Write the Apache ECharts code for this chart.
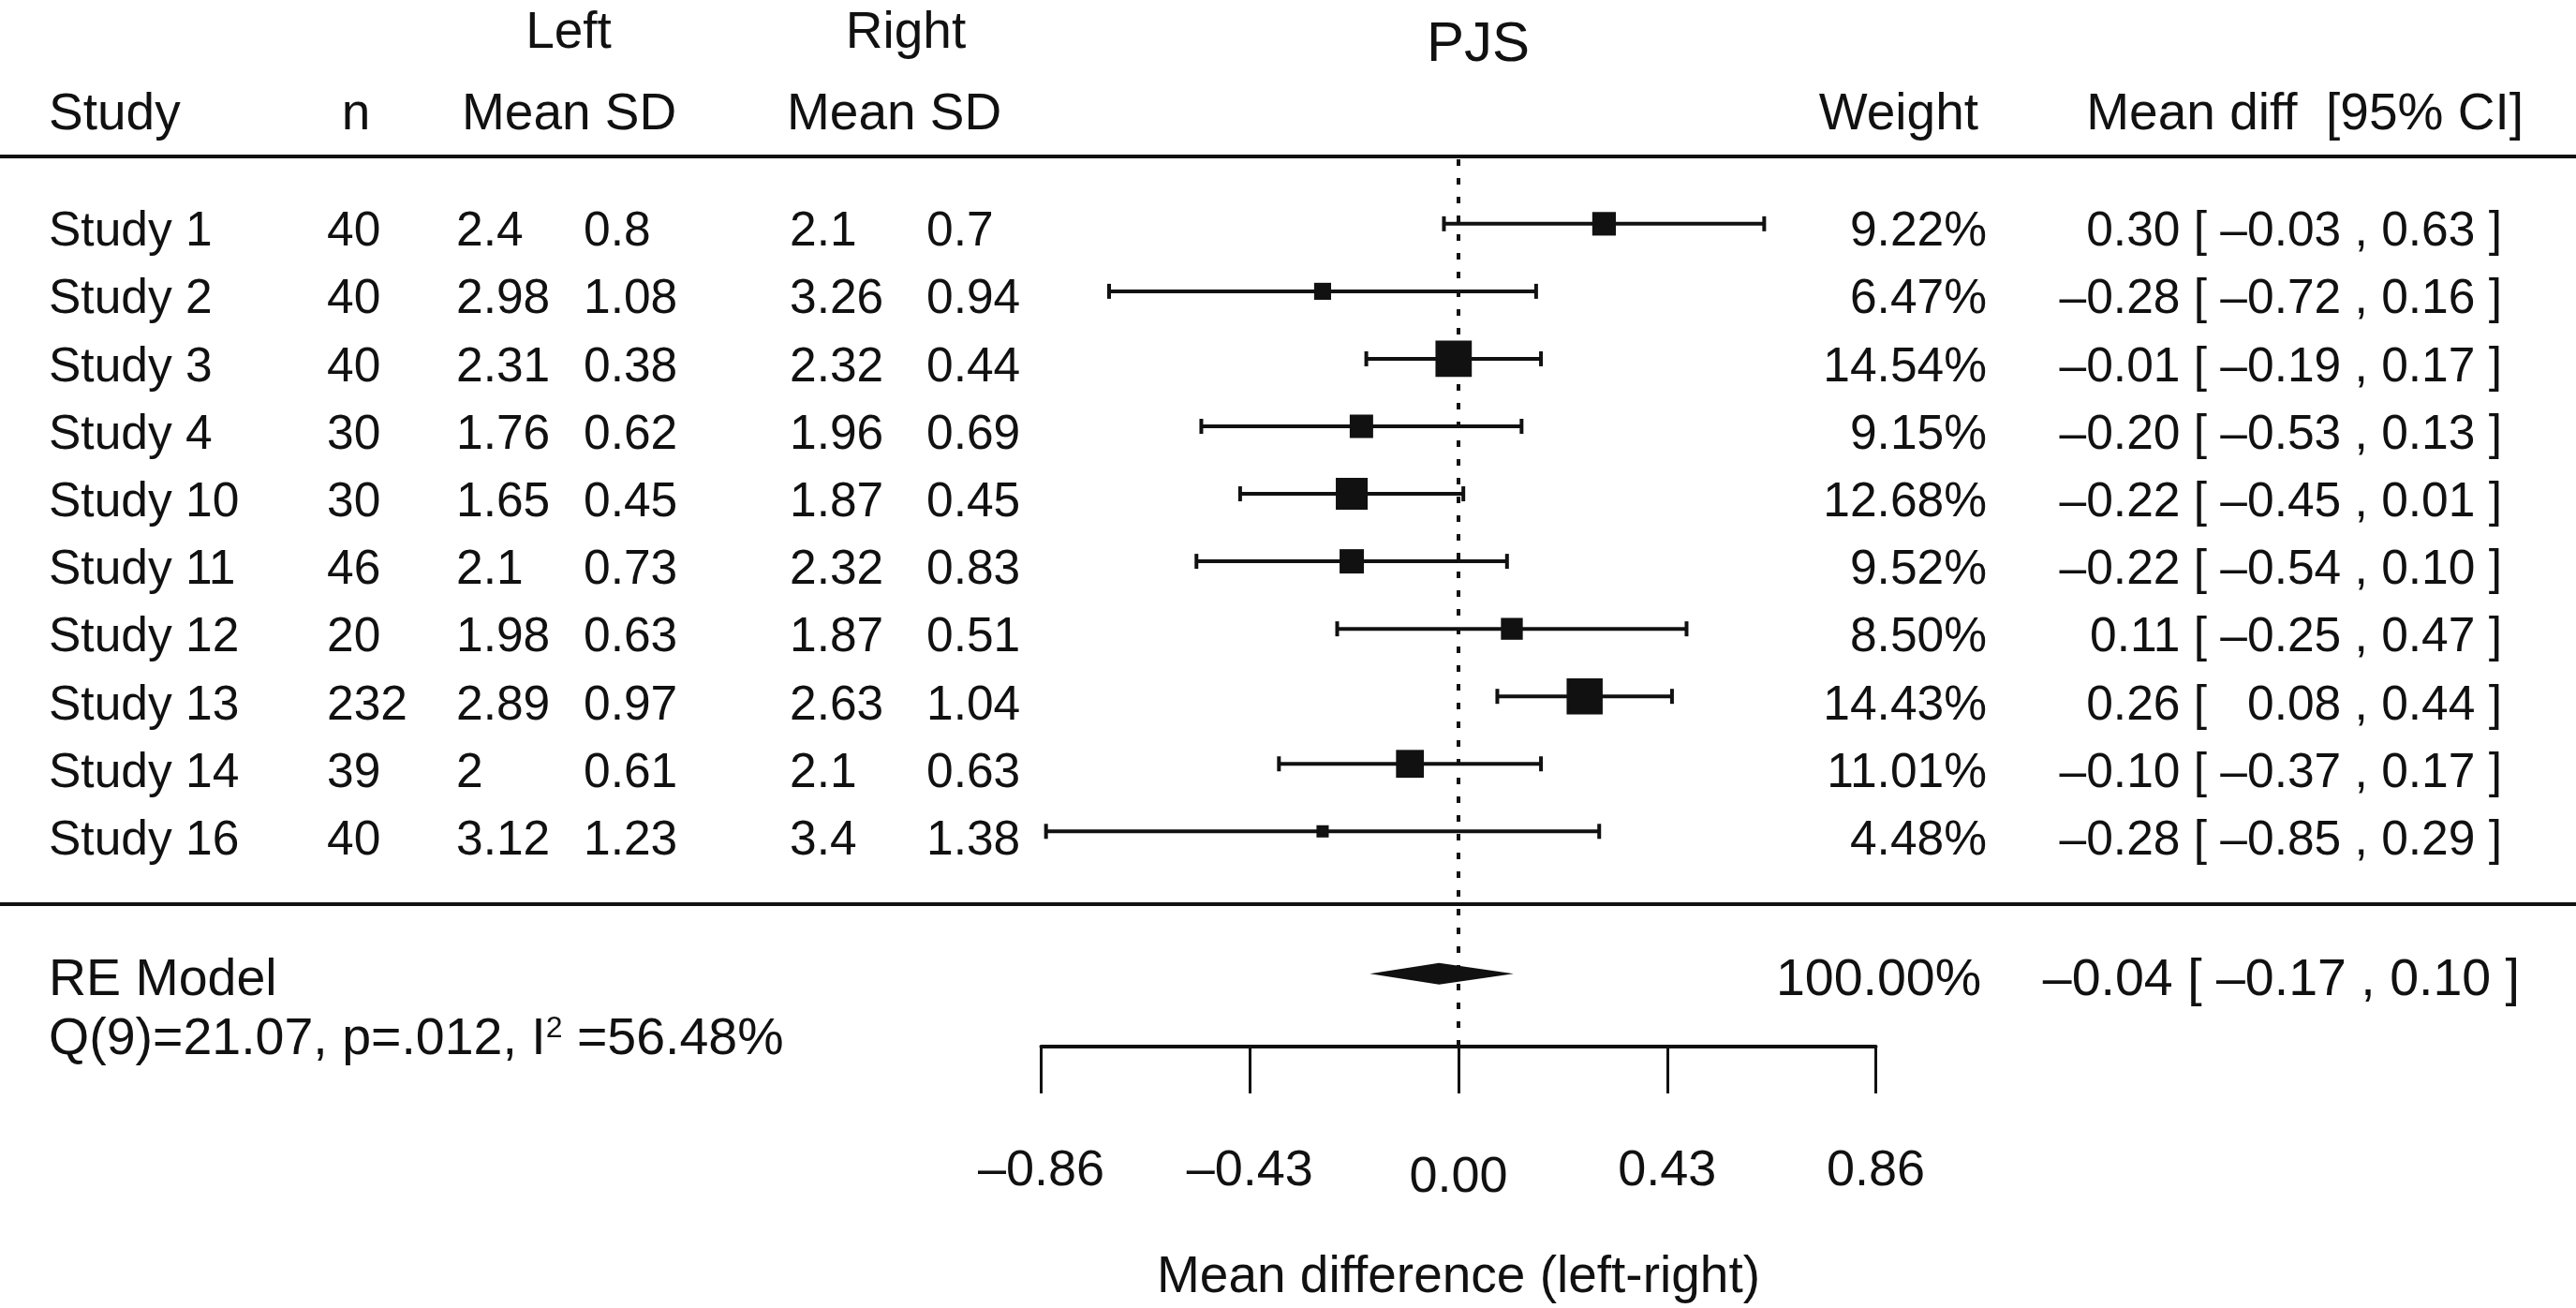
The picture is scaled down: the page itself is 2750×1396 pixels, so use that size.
<!DOCTYPE html>
<html>
<head>
<meta charset="utf-8">
<script src="https://cdn.jsdelivr.net/npm/echarts@6/dist/echarts.min.js"></script>
<style>html,body{margin:0;padding:0;background:#fff}#chart{width:2750px;height:1396px}</style>
</head>
<body>
<div id="chart"></div>
<script>
// ---------------- data ----------------
const studies   = ['Study 1','Study 2','Study 3','Study 4','Study 10','Study 11','Study 12','Study 13','Study 14','Study 16'];
const nVals     = ['40','40','40','30','30','46','20','232','39','40'];
const leftMean  = ['2.4','2.98','2.31','1.76','1.65','2.1','1.98','2.89','2','3.12'];
const leftSD    = ['0.8','1.08','0.38','0.62','0.45','0.73','0.63','0.97','0.61','1.23'];
const rightMean = ['2.1','3.26','2.32','1.96','1.87','2.32','1.87','2.63','2.1','3.4'];
const rightSD   = ['0.7','0.94','0.44','0.69','0.45','0.83','0.51','1.04','0.63','1.38'];
const weights   = [9.22, 6.47, 14.54, 9.15, 12.68, 9.52, 8.50, 14.43, 11.01, 4.48];
const estimates = [0.30, -0.28, -0.01, -0.20, -0.22, -0.22, 0.11, 0.26, -0.10, -0.28];
const ciLower   = [-0.03, -0.72, -0.19, -0.53, -0.45, -0.54, -0.25, 0.08, -0.37, -0.85];
const ciUpper   = [0.63, 0.16, 0.17, 0.13, 0.01, 0.10, 0.47, 0.44, 0.17, 0.29];
const summaryLabel = 'RE Model';
const summaryEst = -0.04, summaryLower = -0.17, summaryUpper = 0.10, summaryWeight = 100.00;
const heterogeneity = ['Q(9)=21.07, p=.012, I', '2', ' =56.48%'];
const xTicks = [-0.86, -0.43, 0.00, 0.43, 0.86];
const plotTitle = 'PJS';
const xAxisTitle = 'Mean difference (left-right)';
const groupHeaders = ['Left', 'Right'];
const colHeaders = ['Study', 'n', 'Mean SD', 'Mean SD', 'Weight', 'Mean diff  [95% CI]'];

// ---------------- layout ----------------
const FONT = '"Liberation Sans", Arial, Helvetica, sans-serif';
const INK = '#111111';
const W = 2750, H = 1396;
const ROW0 = 961, ROWPX = 72.2;                 // pixel of row 0, pixels per row
const rowOf = px => (ROW0 - px) / ROWPX;
const studyRow = i => studies.length - i;
const SUMMARY_ROW = rowOf(1041);
const Q_ROW = rowOf(1105);
const TXT_DY = 9;
const ROW_FS = 51.5, SUM_FS = 55.5, HEAD_FS = 55;
const COL = {study: 52, n: 349, lMean: 487, lSD: 623, rMean: 843, rSD: 989, weightR: 2121, ciR: 2671};
const PLOT_L = 1111.5, PLOT_R = 2002.5, PLOT_TOP = 167, AXIS_Y = 1119;

const fmt = v => (v < 0 ? '\u2013' : '') + Math.abs(v).toFixed(2);
const padLow = v => (v < 0 ? fmt(v) : '  ' + fmt(v));
const ciText = (e, l, u) => fmt(e) + ' [ ' + padLow(l) + ' , ' + fmt(u) + ' ]';

function txt(x, y, text, align, size, extra) {
  return {type: 'text', silent: true, style: Object.assign({
    x: x, y: y, text: text,
    align: align, textAlign: align, verticalAlign: 'middle', textVerticalAlign: 'middle',
    fontSize: size, fontFamily: FONT, fill: INK
  }, extra || {})};
}

const chart = echarts.init(document.getElementById('chart'), null, {renderer: 'canvas', width: W, height: H});

const option = {
  animation: false,
  backgroundColor: '#ffffff',
  textStyle: {fontFamily: FONT, color: INK},
  grid: [
    {left: 0, right: 0, top: 0, bottom: 0},
    {left: PLOT_L, right: W - PLOT_R, top: PLOT_TOP, bottom: H - AXIS_Y}
  ],
  xAxis: [
    {gridIndex: 0, type: 'value', min: 0, max: W, show: false},
    {gridIndex: 1, type: 'value', min: xTicks[0], max: xTicks[xTicks.length - 1],
     interval: xTicks[1] - xTicks[0],
     splitLine: {show: false},
     axisLine: {show: true, onZero: false, lineStyle: {color: INK, width: 4}},
     axisTick: {show: true, inside: false, length: 50, lineStyle: {color: INK, width: 3}},
     axisLabel: {
       margin: 106,
       formatter: v => Math.abs(v) < 1e-9 ? '{z|0.00}' : '{n|' + fmt(v) + '}',
       rich: {
         n: {fontSize: 54, fontFamily: FONT, color: INK},
         z: {fontSize: 54, fontFamily: FONT, color: INK, padding: [7, 0, 0, 0]}
       }
     },
     name: xAxisTitle, nameLocation: 'middle', nameGap: 219,
     nameTextStyle: {fontSize: 55, fontFamily: FONT, color: INK}
    }
  ],
  yAxis: [
    {gridIndex: 0, type: 'value', min: rowOf(H), max: rowOf(0), show: false},
    {gridIndex: 1, type: 'value', min: rowOf(AXIS_Y), max: rowOf(PLOT_TOP), show: false}
  ],
  graphic: [
    txt(607, 36, groupHeaders[0], 'center', HEAD_FS),
    txt(967, 36, groupHeaders[1], 'center', HEAD_FS),
    txt(1578, 48, plotTitle, 'center', 60),
    txt(52, 123, colHeaders[0], 'left', HEAD_FS),
    txt(380, 123, colHeaders[1], 'center', HEAD_FS),
    txt(493, 123, colHeaders[2], 'left', HEAD_FS),
    txt(840, 123, colHeaders[3], 'left', HEAD_FS),
    txt(2112, 123, colHeaders[4], 'right', HEAD_FS),
    txt(2694, 123, colHeaders[5], 'right', HEAD_FS)
  ],
  series: [
    // horizontal rules
    {
      type: 'custom', xAxisIndex: 0, yAxisIndex: 0, silent: true,
      data: [[0, rowOf(PLOT_TOP)], [0, rowOf(965)]],
      renderItem: (params, api) => {
        const y = api.coord([0, api.value(1)])[1];
        return {type: 'line', shape: {x1: api.coord([0, 0])[0], y1: y, x2: api.coord([W, 0])[0], y2: y},
                style: {stroke: INK, lineWidth: 4}};
      }
    },
    // study table text
    {
      type: 'custom', xAxisIndex: 0, yAxisIndex: 0, silent: true,
      data: studies.map((s, i) => [0, studyRow(i)]),
      renderItem: (params, api) => {
        const i = params.dataIndex;
        const y = api.coord([0, api.value(1)])[1] + TXT_DY;
        const X = v => api.coord([v, 0])[0];
        return {type: 'group', children: [
          txt(X(COL.study), y, studies[i], 'left', ROW_FS),
          txt(X(COL.n), y, nVals[i], 'left', ROW_FS),
          txt(X(COL.lMean), y, leftMean[i], 'left', ROW_FS),
          txt(X(COL.lSD), y, leftSD[i], 'left', ROW_FS),
          txt(X(COL.rMean), y, rightMean[i], 'left', ROW_FS),
          txt(X(COL.rSD), y, rightSD[i], 'left', ROW_FS),
          txt(X(COL.weightR), y, weights[i].toFixed(2) + '%', 'right', ROW_FS),
          txt(X(COL.ciR), y, ciText(estimates[i], ciLower[i], ciUpper[i]), 'right', ROW_FS)
        ]};
      }
    },
    // summary text
    {
      type: 'custom', xAxisIndex: 0, yAxisIndex: 0, silent: true,
      data: [[0, SUMMARY_ROW]],
      renderItem: (params, api) => {
        const y = api.coord([0, api.value(1)])[1] + 6;
        const yq = api.coord([0, Q_ROW])[1] + 5;
        const X = v => api.coord([v, 0])[0];
        return {type: 'group', children: [
          txt(X(COL.study), y, summaryLabel, 'left', SUM_FS),
          txt(X(2115), y, summaryWeight.toFixed(2) + '%', 'right', SUM_FS),
          txt(X(2690), y, ciText(summaryEst, summaryLower, summaryUpper), 'right', SUM_FS),
          txt(X(COL.study), yq, heterogeneity[0] + '{sup|' + heterogeneity[1] + '}' + heterogeneity[2], 'left', SUM_FS,
              {rich: {sup: {fontSize: 32, fontFamily: FONT, fill: INK, verticalAlign: 'top'}}})
        ]};
      }
    },
    // zero reference line
    {
      type: 'line', xAxisIndex: 1, yAxisIndex: 1, silent: true, symbol: 'none',
      data: [[0, rowOf(AXIS_Y)], [0, rowOf(PLOT_TOP)]],
      lineStyle: {color: INK, width: 4, type: [7, 13]}, z: 1
    },
    // study CIs and squares
    {
      type: 'custom', xAxisIndex: 1, yAxisIndex: 1, silent: true, z: 3,
      data: estimates.map((e, i) => [e, ciLower[i], ciUpper[i], weights[i], studyRow(i)]),
      encode: {x: [0, 1, 2], y: 4},
      renderItem: (params, api) => {
        const row = api.value(4);
        const pE = api.coord([api.value(0), row]);
        const pL = api.coord([api.value(1), row]);
        const pU = api.coord([api.value(2), row]);
        const side = 2.556 * api.value(3) + 1.6;
        const cap = 8;
        return {type: 'group', children: [
          {type: 'line', shape: {x1: pL[0], y1: pL[1], x2: pU[0], y2: pU[1]}, style: {stroke: INK, lineWidth: 4}},
          {type: 'line', shape: {x1: pL[0], y1: pL[1] - cap, x2: pL[0], y2: pL[1] + cap}, style: {stroke: INK, lineWidth: 4}},
          {type: 'line', shape: {x1: pU[0], y1: pU[1] - cap, x2: pU[0], y2: pU[1] + cap}, style: {stroke: INK, lineWidth: 4}},
          {type: 'rect', shape: {x: pE[0] - side / 2, y: pE[1] - side / 2, width: side, height: side}, style: {fill: INK}}
        ]};
      }
    },
    // summary diamond
    {
      type: 'custom', xAxisIndex: 1, yAxisIndex: 1, silent: true, z: 3,
      data: [[summaryEst, summaryLower, summaryUpper, SUMMARY_ROW]],
      encode: {x: [0, 1, 2], y: 3},
      renderItem: (params, api) => {
        const row = api.value(3);
        const pE = api.coord([api.value(0), row]);
        const pL = api.coord([api.value(1), row]);
        const pU = api.coord([api.value(2), row]);
        const h = 10.5;
        return {type: 'polygon', shape: {points: [[pL[0], pL[1]], [pE[0], pE[1] - h], [pU[0], pU[1]], [pE[0], pE[1] + h]]},
                style: {fill: INK, stroke: INK, lineWidth: 2}};
      }
    }
  ]
};
chart.setOption(option);
</script>
</body>
</html>
